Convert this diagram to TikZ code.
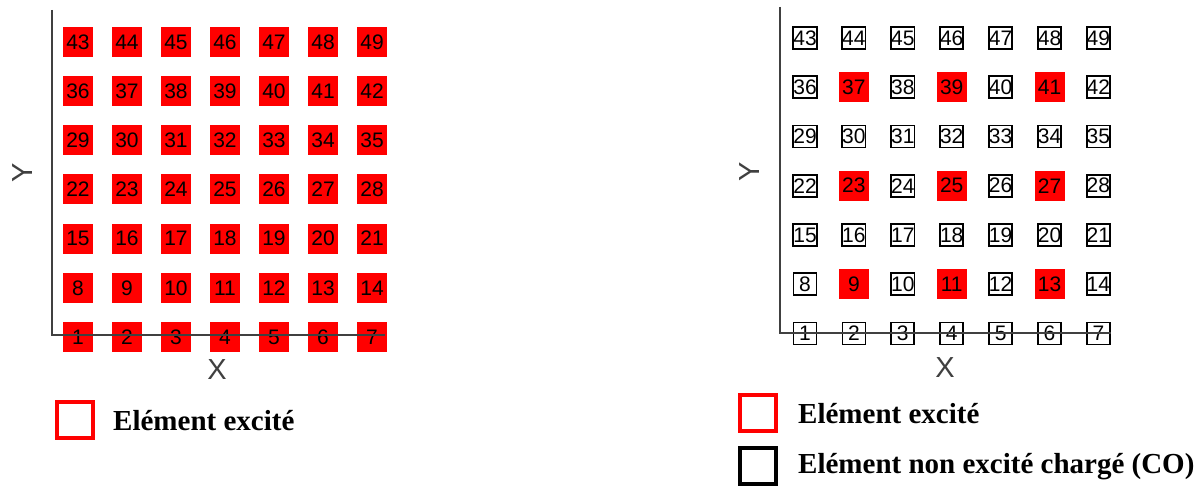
\documentclass[tikz,border=0pt]{standalone}
\usepackage{fontspec}
\setmainfont{Liberation Serif}
\newfontfamily\arialf{Liberation Sans}
\definecolor{axisgray}{RGB}{64,64,64}
\definecolor{exred}{RGB}{255,0,0}
\begin{document}
\begin{tikzpicture}[x=1pt,y=-1pt,
  num/.style={font=\arialf\fontsize{21}{21}\selectfont, inner sep=0pt, text=black},
  redcell/.style={num, fill=exred, minimum width=30pt, minimum height=30pt},
  cocell/.style={num, draw=black, line width=1.8pt, fill=white, minimum width=23pt, minimum height=22pt},
  axis/.style={draw=axisgray, line width=1.5pt},
  axlabel/.style={font=\arialf\fontsize{29}{29}\selectfont, text=axisgray, inner sep=0pt},
  legtext/.style={font=\bfseries\fontsize{29}{29}\selectfont, anchor=base west, inner sep=0pt},
  legbox/.style={line width=4pt, minimum size=36pt, inner sep=0pt},
]
\useasboundingbox (0,0) rectangle (1202,487);
% left grid: all excited
\foreach \r in {0,...,6}{
  \foreach \c in {0,...,6}{
    \pgfmathtruncatemacro{\n}{7*\r+\c+1}
    \node[redcell] (L\n) at ({78+49*\c},{337-49.17*\r}) {\n};
  }}
% right grid
\foreach \r in {0,...,6}{
  \foreach \c in {0,...,6}{
    \pgfmathtruncatemacro{\n}{7*\r+\c+1}
    \pgfmathtruncatemacro{\isred}{(mod(\r,2)==1 && mod(\c,2)==1) ? 1 : 0}
    \ifnum\isred=1
      \node[redcell] (R\n) at ({805+48.9*\c},{333.5-49.25*\r}) {\n};
    \else
      \node[cocell] (R\n) at ({805+48.9*\c},{333.5-49.25*\r}) {\n};
    \fi
  }}
% axes
\coordinate (LYtop) at (52,10);
\coordinate (LO) at (52,335);
\coordinate (LXend) at (385,335);
\draw[axis] (LYtop) -- (LO) -- (LXend);
\coordinate (RYtop) at (780,7);
\coordinate (RO) at (780,333);
\coordinate (RXend) at (1111,333);
\draw[axis] (RYtop) -- (RO) -- (RXend);
\node[axlabel, rotate=90] (LY) at (23,173) {Y};
\node[axlabel] (LX) at (217,370) {X};
\node[axlabel, rotate=90] (RY) at (750,172) {Y};
\node[axlabel] (RX) at (945,368) {X};
% legends
\node[legbox, draw=exred] (LegL) at (75,420) {};
\node[legtext] (LegLt) at (113,430) {Elément excité};
\node[legbox, draw=exred] (LegR1) at (758,412.5) {};
\node[legtext] (LegR1t) at (798,423) {Elément excité};
\node[legbox, draw=black] (LegR2) at (758,465.5) {};
\node[legtext] (LegR2t) at (798,473) {Elément non excité chargé (CO)};
\end{tikzpicture}
\end{document}
